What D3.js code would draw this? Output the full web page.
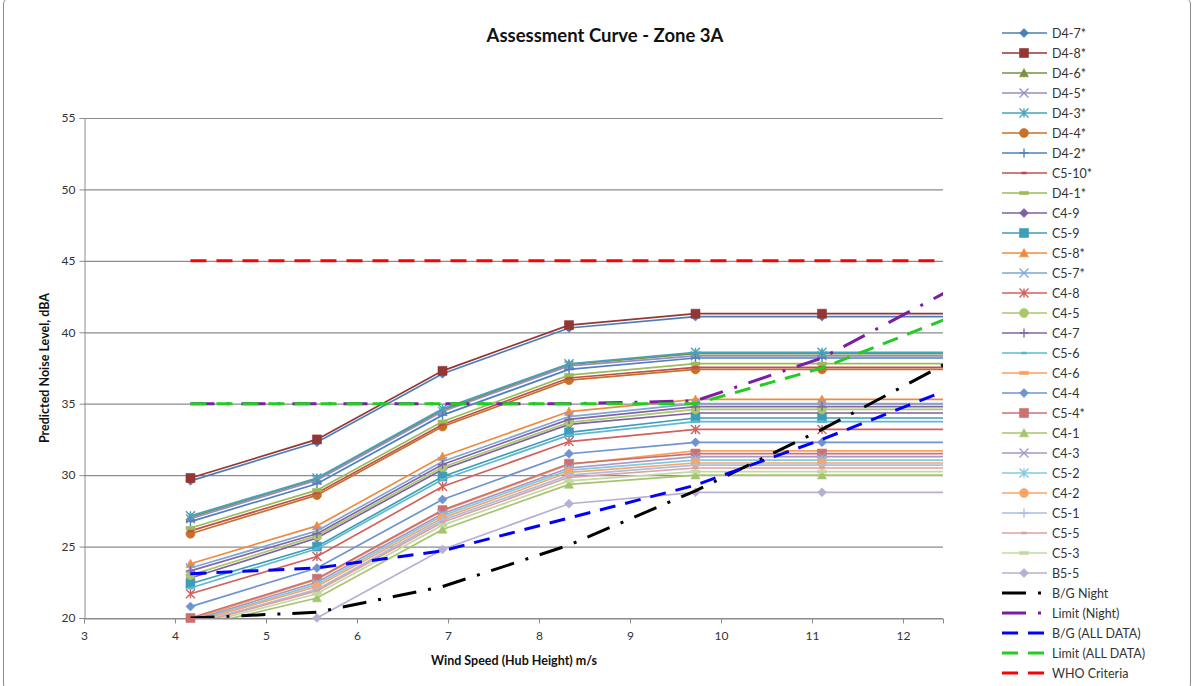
<!DOCTYPE html>
<html>
<head>
<meta charset="utf-8">
<script src="https://cdn.jsdelivr.net/npm/d3@7"></script>
<style>
  body { margin: 0; background: #fff; }
  svg { font-family: Lato, "Open Sans", sans-serif; }
</style>
</head>
<body>
<div class="chart"></div>
<script>
(function() {
  'use strict';

  // wind speed at hub height, m/s
  const windSpeed = [4.17, 5.56, 6.94, 8.33, 9.72, 11.11, 12.5];
  const xTicks = [3, 4, 5, 6, 7, 8, 9, 10, 11, 12];
  const yTicks = [20, 25, 30, 35, 40, 45, 50, 55];

  const seriesNames = ['D4-7*', 'D4-8*', 'D4-6*', 'D4-5*', 'D4-3*', 'D4-4*', 'D4-2*', 'C5-10*', 'D4-1*',
    'C4-9', 'C5-9', 'C5-8*', 'C5-7*', 'C4-8', 'C4-5', 'C4-7', 'C5-6', 'C4-6', 'C4-4', 'C5-4*',
    'C4-1', 'C4-3', 'C5-2', 'C4-2', 'C5-1', 'C5-5', 'C5-3', 'B5-5'];

  const seriesValues = [
    [29.6, 32.3, 37.1, 40.3, 41.1, 41.1, 41.1],      // D4-7*
    [29.8, 32.5, 37.3, 40.5, 41.3, 41.3, 41.3],      // D4-8*
    [27.05, 29.75, 34.55, 37.75, 38.5, 38.5, 38.5],  // D4-6*
    [26.95, 29.65, 34.45, 37.65, 38.35, 38.35, 38.35], // D4-5*
    [27.15, 29.8, 34.65, 37.8, 38.6, 38.6, 38.6],    // D4-3*
    [25.9, 28.6, 33.4, 36.65, 37.4, 37.4, 37.4],     // D4-4*
    [26.75, 29.4, 34.2, 37.4, 38.2, 38.2, 38.2],     // D4-2*
    [26.1, 28.75, 33.55, 36.8, 37.55, 37.55, 37.55], // C5-10*
    [26.3, 28.95, 33.75, 37.0, 37.8, 37.8, 37.8],    // D4-1*
    [22.8, 25.6, 30.4, 33.55, 34.35, 34.35, 34.35],  // C4-9
    [22.4, 25.0, 29.9, 33.0, 34.0, 34.0, 34.0],      // C5-9
    [23.8, 26.45, 31.3, 34.45, 35.3, 35.3, 35.3],    // C5-8*
    [23.5, 26.1, 30.95, 34.1, 35.0, 35.0, 35.0],     // C5-7*
    [21.7, 24.3, 29.2, 32.35, 33.2, 33.2, 33.2],     // C4-8
    [23.0, 25.75, 30.55, 33.7, 34.6, 34.6, 34.6],    // C4-5
    [23.3, 25.9, 30.75, 33.9, 34.8, 34.8, 34.8],     // C4-7
    [22.1, 24.85, 29.7, 32.8, 33.75, 33.75, 33.75],  // C5-6
    [19.9, 22.7, 27.5, 30.75, 31.7, 31.7, 31.7],     // C4-6
    [20.8, 23.5, 28.3, 31.5, 32.3, 32.3, 32.3],      // C4-4
    [20.0, 22.75, 27.55, 30.8, 31.5, 31.5, 31.5],    // C5-4*
    [19.3, 21.4, 26.2, 29.35, 30.0, 30.0, 30.0],     // C4-1
    [19.8, 22.5, 27.3, 30.5, 31.3, 31.3, 31.3],      // C4-3
    [19.7, 22.35, 27.15, 30.35, 31.05, 31.05, 31.05], // C5-2
    [19.65, 22.2, 27.0, 30.2, 30.85, 30.85, 30.85],  // C4-2
    [19.55, 22.0, 26.85, 30.0, 30.7, 30.7, 30.7],    // C5-1
    [19.5, 21.9, 26.7, 29.85, 30.5, 30.5, 30.5],     // C5-5
    [19.4, 21.7, 26.5, 29.6, 30.25, 30.25, 30.25],   // C5-3
    [17.0, 20.0, 24.8, 28.0, 28.8, 28.8, 28.8]       // B5-5
  ];

  const bgNight     = [20.0, 20.4, 22.2, 25.1, 28.9, 33.2, 37.9];
  const limitNight  = [35.0, 35.0, 35.0, 35.0, 35.2, 38.2, 42.9];
  const bgAll       = [23.1, 23.5, 24.7, 27.0, 29.3, 32.5, 36.0];
  const limitAll    = [35.0, 35.0, 35.0, 35.0, 35.0, 37.5, 41.0];
  const whoCriteria = [45, 45, 45, 45, 45, 45, 45];

  const refNames  = ['B/G Night', 'Limit (Night)', 'B/G (ALL DATA)', 'Limit (ALL DATA)', 'WHO Criteria'];
  const refValues = [bgNight, limitNight, bgAll, limitAll, whoCriteria];

  // styles (excel-ish palette)
  const colors = ['#4A7EBB', '#943634', '#77933C', '#9C8BBE', '#45A3BC', '#C86F28', '#4F81BD', '#C0504D', '#9BBB59',
    '#7E5FA3', '#3F9DB7', '#F08A3E', '#7EA6D8', '#D2605D', '#A9C86A', '#8366A8', '#5DB8D2', '#F7A160', '#6E93CE', '#CC716F',
    '#A6C46E', '#A896C6', '#80CBE0', '#F8A46A', '#A9BEE2', '#DBA2A0', '#C4D8A6', '#B9AED3'];
  const markers = ['diamond', 'square', 'triangle', 'x', 'star', 'circle', 'plus', 'dash', 'bar'];
  const refColors = ['#000000', '#7B1FA2', '#0000FF', '#22CC22', '#FF0000'];
  const longDashDot = '24,12,3,12', dashed = '16,10';
  const refDash = [longDashDot, longDashDot, dashed, dashed, dashed];

  const width = 1200, height = 686,
        left = 84, right = 943, top = 118, bottom = 618;

  const svg = d3.select('.chart')
    .append('svg')
    .attr('width', width)
    .attr('height', height);

  // chart border
  svg.append('rect')
    .attr('x', 3.5).attr('y', -2)
    .attr('width', 1187).attr('height', 692)
    .attr('rx', 6)
    .attr('fill', 'none')
    .attr('stroke', '#8a8a8a');

  const x = d3.scaleLinear().domain([3, 12.44]).range([left, right]),
        y = d3.scaleLinear().domain([20, 55]).range([bottom, top]);

  // gridlines
  svg.append('g')
    .selectAll('line')
    .data(yTicks)
    .enter()
    .append('line')
      .attr('x1', left).attr('x2', right)
      .attr('y1', d => y(d) + 0.5).attr('y2', d => y(d) + 0.5)
      .attr('stroke', '#8c8c8c')
      .attr('stroke-width', 1.2);

  // axes
  const yAxis = svg.append('g')
    .attr('transform', `translate(${left + 0.5},0)`)
    .call(d3.axisLeft(y).tickValues(yTicks).tickSize(5).tickPadding(4));
  const xAxis = svg.append('g')
    .attr('transform', `translate(0,${bottom + 0.5})`)
    .call(d3.axisBottom(x).tickValues(xTicks).tickSize(5).tickPadding(8));

  [xAxis, yAxis].forEach(a => {
    a.select('.domain').attr('stroke', '#8c8c8c');
    a.selectAll('.tick line').attr('stroke', '#8c8c8c');
    a.selectAll('.tick text')
      .attr('fill', '#333')
      .style('font-size', '12px')
      .style('font-family', 'Lato, sans-serif');
  });

  svg.append('defs').append('clipPath')
    .attr('id', 'plot-clip')
    .append('rect')
      .attr('x', left).attr('y', top)
      .attr('width', right - left).attr('height', bottom - top);

  const line = d3.line()
    .x((d, i) => x(windSpeed[i]))
    .y(d => y(d));

  const markerPath = (type) => {
    const s = 4.5;
    switch (type) {
      case 'diamond':  return `M0,${-s}L${s},0L0,${s}L${-s},0Z`;
      case 'square':   return `M${-s},${-s}H${s}V${s}H${-s}Z`;
      case 'triangle': return `M0,${-s}L${s},${s * 0.85}L${-s},${s * 0.85}Z`;
      case 'x':        return `M${-s},${-s}L${s},${s}M${-s},${s}L${s},${-s}`;
      case 'star':     return `M${-s},${-s}L${s},${s}M${-s},${s}L${s},${-s}M0,${-s}L0,${s}`;
      case 'circle':   return `M${s},0A${s},${s} 0 1 1 ${-s},0A${s},${s} 0 1 1 ${s},0Z`;
      case 'plus':     return `M${-s},0H${s}M0,${-s}V${s}`;
      case 'dash':     return 'M-2.5,-1H2.5V1H-2.5Z';
      case 'bar':      return 'M-4.5,-1.6H4.5V1.6H-4.5Z';
    }
  };
  const isStroked = t => t === 'x' || t === 'star' || t === 'plus';

  const drawMarker = (sel, type, color) => {
    sel.append('path')
      .attr('d', markerPath(type))
      .attr('fill', isStroked(type) ? 'none' : color)
      .attr('stroke', color)
      .attr('stroke-width', isStroked(type) ? 1.4 : 0.6);
  };

  // series lines + markers
  const plot = svg.append('g');
  seriesValues.forEach((vals, k) => {
    const color = colors[k], type = markers[k % markers.length];
    plot.append('path')
      .datum(vals)
      .attr('clip-path', 'url(#plot-clip)')
      .attr('d', line)
      .attr('fill', 'none')
      .attr('stroke', color)
      .attr('stroke-width', 1.7);

    vals.forEach((v, i) => {
      if (v < 20 || windSpeed[i] > 12.44) return;
      const g = plot.append('g')
        .attr('transform', `translate(${x(windSpeed[i])},${y(v)})`);
      drawMarker(g, type, color);
    });
  });

  // reference lines
  refValues.forEach((vals, k) => {
    plot.append('path')
      .datum(vals)
      .attr('clip-path', 'url(#plot-clip)')
      .attr('d', line)
      .attr('fill', 'none')
      .attr('stroke', refColors[k])
      .attr('stroke-width', 3)
      .attr('stroke-dasharray', refDash[k]);
  });

  // titles
  svg.append('text')
    .attr('x', 605).attr('y', 42)
    .attr('text-anchor', 'middle')
    .style('font-size', '18.5px')
    .style('font-weight', 'bold')
    .attr('fill', '#111')
    .text('Assessment Curve - Zone 3A');

  svg.append('text')
    .attr('x', 514).attr('y', 665)
    .attr('text-anchor', 'middle')
    .style('font-size', '12.5px')
    .style('font-weight', 'bold')
    .attr('fill', '#111')
    .text('Wind Speed (Hub Height) m/s');

  svg.append('text')
    .attr('transform', 'translate(49,368) rotate(-90)')
    .attr('text-anchor', 'middle')
    .style('font-size', '12.5px')
    .style('font-weight', 'bold')
    .attr('fill', '#111')
    .text('Predicted Noise Level, dBA');

  // legend
  const legend = svg.append('g');
  const rowY = i => 33 + i * 20;

  seriesNames.forEach((name, k) => {
    const yy = rowY(k), type = markers[k % markers.length];
    legend.append('line')
      .attr('x1', 1002).attr('x2', 1047)
      .attr('y1', yy).attr('y2', yy)
      .attr('stroke', colors[k])
      .attr('stroke-width', 1.7);
    drawMarker(legend.append('g').attr('transform', `translate(1024,${yy})`), type, colors[k]);
    legend.append('text')
      .attr('x', 1052).attr('y', yy + 4.5)
      .style('font-size', '12.5px')
      .attr('fill', '#333')
      .text(name);
  });

  refNames.forEach((name, k) => {
    const yy = rowY(seriesNames.length + k);
    legend.append('line')
      .attr('x1', 1002).attr('x2', 1047)
      .attr('y1', yy).attr('y2', yy)
      .attr('stroke', refColors[k])
      .attr('stroke-width', 3)
      .attr('stroke-dasharray', refDash[k]);
    legend.append('text')
      .attr('x', 1052).attr('y', yy + 4.5)
      .style('font-size', '12.5px')
      .attr('fill', '#333')
      .text(name);
  });

})();
</script>
</body>
</html>
